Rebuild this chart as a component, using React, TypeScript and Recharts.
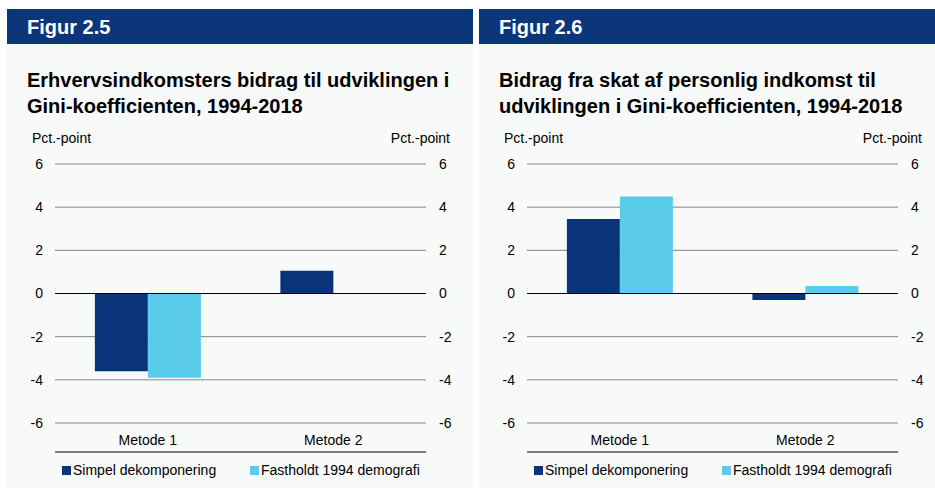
import React from 'react';
import { ComposedChart, Bar, Line, XAxis, YAxis, CartesianGrid, ReferenceLine } from 'recharts';

const categories = ['Metode 1', 'Metode 2'];
const seriesNames = ['Simpel dekomponering', 'Fastholdt 1994 demografi'];
const fig25Simpel = [-3.6, 1.05];
const fig25Fastholdt = [-3.9, 0];
const fig26Simpel = [3.45, -0.3];
const fig26Fastholdt = [4.5, 0.35];
const yTicks = [-6, -4, -2, 0, 2, 4, 6];

const DARK = '#0a347a';
const LIGHT = '#5bcbec';
const HEADER = '#0b3679';
const BG = '#f8f9f9';
const FONT = '"Liberation Sans", Arial, sans-serif';

// slot = category index + 0.5, used only by the edge axis that draws the boundary ticks
const buildRows = (a: number[], b: number[]) =>
  categories.map((name, i) => ({ name, slot: i + 0.5, simpel: a[i], fastholdt: b[i] }));

const tickStyle = { fontSize: 14, fill: '#000', fontFamily: FONT };

type PanelProps = {
  left: number;
  figure: string;
  title: string[];
  simpel: number[];
  fastholdt: number[];
};

const Panel = ({ left, figure, title, simpel, fastholdt }: PanelProps) => {
  const data = buildRows(simpel, fastholdt);
  return (
    <div style={{ position: 'absolute', left, top: 9, width: 466, height: 479, background: BG, fontFamily: FONT }}>
      <div style={{ position: 'absolute', left: 0, top: 0, width: 466, height: 35, background: HEADER }}>
        <div style={{ position: 'absolute', left: 20, top: 1, lineHeight: '35px', fontSize: 20, fontWeight: 'bold', color: '#fff' }}>
          {figure}
        </div>
      </div>
      <div style={{ position: 'absolute', left: 20, top: 58, fontSize: 20, lineHeight: '26px', fontWeight: 'bold', color: '#000', whiteSpace: 'nowrap' }}>
        {title.map((t) => (
          <div key={t}>{t}</div>
        ))}
      </div>
      <div style={{ position: 'absolute', left: 25, top: 121, fontSize: 14, lineHeight: '16px' }}>Pct.-point</div>
      <div style={{ position: 'absolute', right: 23, top: 121, fontSize: 14, lineHeight: '16px' }}>Pct.-point</div>

      <div style={{ position: 'absolute', left: 0, top: 0 }}>
        <ComposedChart
          width={466}
          height={479}
          data={data}
          margin={{ top: 155, right: 0, left: 0, bottom: 35 }}
          barCategoryGap="21.5%"
          barGap={0}
        >
          <CartesianGrid horizontal vertical={false} stroke="#858585" xAxisId="cat" yAxisId="l" />
          <XAxis
            xAxisId="edge"
            dataKey="slot"
            type="number"
            domain={[0, 2]}
            ticks={[0, 1, 2]}
            tick={false}
            tickSize={5}
            height={1}
            axisLine={{ stroke: '#000' }}
            tickLine={{ stroke: '#000' }}
          />
          <XAxis
            xAxisId="cat"
            dataKey="name"
            height={29}
            axisLine={false}
            tickLine={false}
            tickSize={0}
            tickMargin={12}
            tick={tickStyle}
          />
          <YAxis
            yAxisId="l"
            width={48}
            domain={[-6, 6]}
            ticks={yTicks}
            axisLine={false}
            tickLine={false}
            tickSize={10}
            tickMargin={2}
            tick={tickStyle}
          />
          <YAxis
            yAxisId="r"
            orientation="right"
            width={47}
            domain={[-6, 6]}
            ticks={yTicks}
            axisLine={false}
            tickLine={false}
            tickSize={11}
            tickMargin={2}
            tick={tickStyle}
          />
          <ReferenceLine y={0} xAxisId="cat" yAxisId="l" stroke="#000" />
          <Bar dataKey="simpel" name={seriesNames[0]} fill={DARK} xAxisId="cat" yAxisId="l" isAnimationActive={false} />
          <Bar dataKey="fastholdt" name={seriesNames[1]} fill={LIGHT} xAxisId="cat" yAxisId="l" isAnimationActive={false} />
          {/* invisible series so the right axis and the edge axis get drawn */}
          <Line
            dataKey="simpel"
            xAxisId="edge"
            yAxisId="r"
            stroke="none"
            dot={false}
            activeDot={false}
            legendType="none"
            isAnimationActive={false}
          />
        </ComposedChart>
      </div>

      <div style={{ position: 'absolute', left: 55, top: 453, fontSize: 14, lineHeight: '16px', display: 'flex', whiteSpace: 'nowrap' }}>
        {seriesNames.map((s, i) => (
          <div key={s} style={{ display: 'flex', alignItems: 'center', width: i === 0 ? 188 : 'auto' }}>
            <span style={{ display: 'inline-block', width: 9, height: 9, background: i === 0 ? DARK : LIGHT, marginRight: 2 }} />
            <span>{s}</span>
          </div>
        ))}
      </div>
    </div>
  );
};

export default function App() {
  return (
    <div style={{ position: 'absolute', left: 0, top: 0, width: 935, height: 488, background: '#fff', overflow: 'hidden' }}>
      <Panel
        left={7}
        figure="Figur 2.5"
        title={['Erhvervsindkomsters bidrag til udviklingen i', 'Gini-koefficienten, 1994-2018']}
        simpel={fig25Simpel}
        fastholdt={fig25Fastholdt}
      />
      <Panel
        left={479}
        figure="Figur 2.6"
        title={['Bidrag fra skat af personlig indkomst til', 'udviklingen i Gini-koefficienten, 1994-2018']}
        simpel={fig26Simpel}
        fastholdt={fig26Fastholdt}
      />
    </div>
  );
}
